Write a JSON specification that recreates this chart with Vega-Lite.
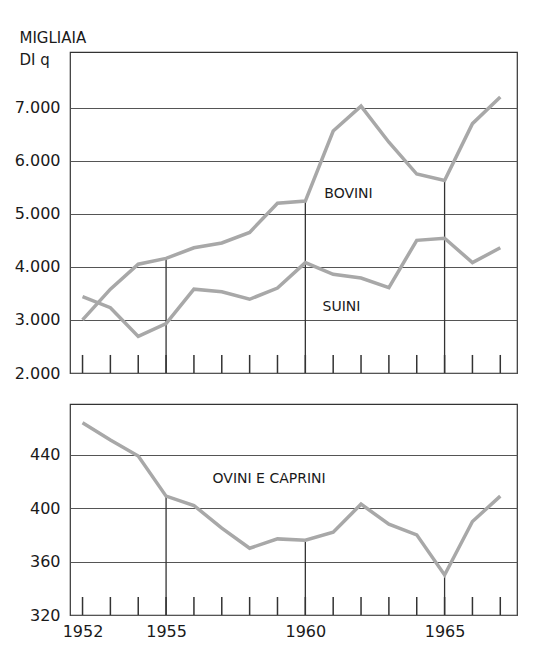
{
  "$schema": "https://vega.github.io/schema/vega-lite/v6.json",
  "padding": {"left": 13, "top": 29, "right": 5, "bottom": 5},
  "background": "white",
  "config": {
    "view": {"stroke": "#333", "strokeWidth": 1.2},
    "font": "DejaVu Sans",
    "axis": {"labelFont": "DejaVu Sans", "labelColor": "#1a1a1a", "gridColor": "#555", "gridWidth": 1, "gridOpacity": 1, "domain": false, "ticks": false}
  },
  "datasets": {
    "meat": [
      {"year": 1952, "bovini": 3000, "suini": 3440, "ovini": 464},
      {"year": 1953, "bovini": 3580, "suini": 3230, "ovini": 451},
      {"year": 1954, "bovini": 4050, "suini": 2690, "ovini": 439},
      {"year": 1955, "bovini": 4160, "suini": 2930, "ovini": 409},
      {"year": 1956, "bovini": 4360, "suini": 3580, "ovini": 402},
      {"year": 1957, "bovini": 4450, "suini": 3530, "ovini": 385},
      {"year": 1958, "bovini": 4650, "suini": 3390, "ovini": 370},
      {"year": 1959, "bovini": 5200, "suini": 3600, "ovini": 377},
      {"year": 1960, "bovini": 5240, "suini": 4080, "ovini": 376},
      {"year": 1961, "bovini": 6560, "suini": 3860, "ovini": 382},
      {"year": 1962, "bovini": 7030, "suini": 3790, "ovini": 403},
      {"year": 1963, "bovini": 6350, "suini": 3610, "ovini": 388},
      {"year": 1964, "bovini": 5750, "suini": 4500, "ovini": 380},
      {"year": 1965, "bovini": 5630, "suini": 4540, "ovini": 350},
      {"year": 1966, "bovini": 6700, "suini": 4080, "ovini": 390},
      {"year": 1967, "bovini": 7200, "suini": 4360, "ovini": 409}
    ],
    "labelsTop": [
      {"name": "BOVINI", "year": 1961.55, "value": 5380},
      {"name": "SUINI", "year": 1961.3, "value": 3250}
    ],
    "labelsBottom": [
      {"name": "OVINI E CAPRINI", "year": 1958.7, "value": 422}
    ]
  },
  "spacing": 21,
  "vconcat": [
    {
      "width": 447,
      "height": 321,
      "data": {"name": "meat"},
      "encoding": {
        "x": {"field": "year", "type": "quantitative", "scale": {"domain": [1951.55, 1967.6], "nice": false, "zero": false}, "axis": null}
      },
      "layer": [
        {
          "transform": [{"filter": "datum.year == 1955 || datum.year == 1960 || datum.year == 1965"}],
          "mark": {"type": "rule", "color": "#333", "strokeWidth": 1.3},
          "encoding": {
            "y": {
              "field": "bovini", "type": "quantitative",
              "scale": {"domain": [2000, 8050], "nice": false, "zero": false},
              "axis": {
                "values": [2000, 3000, 4000, 5000, 6000, 7000],
                "labelExpr": "replace(format(datum.value, ','), ',', '.')",
                "labelFontSize": 16, "labelPadding": 10, "grid": true,
                "title": ["MIGLIAIA", "DI q"], "titleAngle": 0, "titleAlign": "left",
                "titleBaseline": "alphabetic", "titleX": -51, "titleY": -10,
                "titleFontSize": 15, "titleFontWeight": "normal", "titleLineHeight": 22,
                "titleColor": "#1a1a1a", "titleFont": "DejaVu Sans"
              }
            },
            "y2": {"datum": 2000}
          }
        },
        {
          "mark": {"type": "rule", "color": "#333", "strokeWidth": 1.5},
          "encoding": {"y": {"datum": 2000, "type": "quantitative"}, "y2": {"datum": 2340}}
        },
        {
          "transform": [{"fold": ["bovini", "suini"], "as": ["series", "value"]}],
          "mark": {"type": "line", "color": "#a8a8a8", "strokeWidth": 3.5},
          "encoding": {
            "y": {"field": "value", "type": "quantitative"},
            "detail": {"field": "series"}
          }
        },
        {
          "data": {"name": "labelsTop"},
          "mark": {"type": "text", "font": "DejaVu Sans", "fontSize": 14, "color": "#1a1a1a"},
          "encoding": {
            "y": {"field": "value", "type": "quantitative"},
            "text": {"field": "name"}
          }
        }
      ]
    },
    {
      "width": 447,
      "height": 211,
      "data": {"name": "meat"},
      "encoding": {
        "x": {
          "field": "year", "type": "quantitative",
          "scale": {"domain": [1951.55, 1967.6], "nice": false, "zero": false},
          "axis": {"values": [1952, 1955, 1960, 1965], "format": "d", "labelFontSize": 16, "labelPadding": 8, "grid": false, "title": null}
        }
      },
      "layer": [
        {
          "transform": [{"filter": "datum.year == 1955 || datum.year == 1960 || datum.year == 1965"}],
          "mark": {"type": "rule", "color": "#333", "strokeWidth": 1.3},
          "encoding": {
            "y": {
              "field": "ovini", "type": "quantitative",
              "scale": {"domain": [320, 478], "nice": false, "zero": false},
              "axis": {"values": [320, 360, 400, 440], "labelFontSize": 16, "labelPadding": 10, "grid": true, "title": null}
            },
            "y2": {"datum": 320}
          }
        },
        {
          "mark": {"type": "rule", "color": "#333", "strokeWidth": 1.5},
          "encoding": {"y": {"datum": 320, "type": "quantitative"}, "y2": {"datum": 333.5}}
        },
        {
          "mark": {"type": "line", "color": "#a8a8a8", "strokeWidth": 3.5},
          "encoding": {"y": {"field": "ovini", "type": "quantitative"}}
        },
        {
          "data": {"name": "labelsBottom"},
          "mark": {"type": "text", "font": "DejaVu Sans", "fontSize": 14, "color": "#1a1a1a"},
          "encoding": {
            "y": {"field": "value", "type": "quantitative"},
            "text": {"field": "name"}
          }
        }
      ]
    }
  ]
}
